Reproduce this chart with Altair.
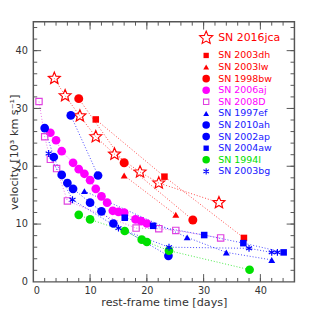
import altair as alt
import pandas as pd

# ---- data: rest-frame time [days], velocity [10^3 km/s]
t_2016jca = [3.7, 5.6, 8.2, 11.0, 14.3, 18.8, 22.1, 32.7]
v_2016jca = [35.2, 32.2, 28.7, 25.1, 22.1, 19.0, 17.1, 13.7]
t_2003dh = [11.0, 23.1, 37.1]
v_2003dh = [28.1, 18.2, 7.6]
t_2003lw = [16.0, 25.1]
v_2003lw = [18.4, 11.6]
t_1998bw = [8.0, 16.0, 28.1]
v_1998bw = [31.7, 20.6, 10.7]
t_2006aj = [3, 4, 5, 7, 8, 9, 10, 11, 12, 13, 14, 15, 16, 18, 19, 20]
v_2006aj = [25.8, 24.5, 22.6, 20.6, 19.5, 18.7, 17.6, 16.1, 14.8, 13.7, 12.3, 12.1, 12.0, 10.8, 10.5, 10.1]
t_2008D = [1.0, 2.0, 3.0, 4.1, 6.0, 18.1, 22.1, 25.1, 33.0]
v_2008D = [31.2, 25.1, 21.2, 19.6, 14.0, 9.3, 9.2, 8.9, 7.6]
t_1997ef = [9.0, 27.1, 34.0, 42.0]
v_1997ef = [15.7, 7.7, 5.1, 3.8]
t_2010ah = [6.6, 11.4]
v_2010ah = [28.8, 18.4]
t_2002ap = [2.0, 3.6, 5.0, 6.0, 7.0, 10.0, 12.0, 14.1, 23.8]
v_2002ap = [26.6, 21.6, 18.5, 17.1, 16.1, 13.7, 12.2, 10.1, 4.5]
t_2004aw = [16.1, 21.1, 30.1, 37.0, 44.1]
v_2004aw = [11.1, 9.7, 8.1, 6.7, 5.1]
t_1994I = [8.0, 10.0, 16.1, 19.1, 20.0, 23.9, 38.1]
v_1994I = [11.6, 10.8, 8.8, 7.3, 6.9, 5.4, 2.1]
t_2003bg = [2.7, 6.9, 15.0, 23.9, 38.0, 42.0, 43.0]
v_2003bg = [22.2, 14.2, 9.3, 6.0, 5.8, 5.1, 5.1]

names = ["SN 2016jca", "SN 2003dh", "SN 2003lw", "SN 1998bw", "SN 2006aj", "SN 2008D",
         "SN 1997ef", "SN 2010ah", "SN 2002ap", "SN 2004aw", "SN 1994I", "SN 2003bg"]
times = [t_2016jca, t_2003dh, t_2003lw, t_1998bw, t_2006aj, t_2008D,
         t_1997ef, t_2010ah, t_2002ap, t_2004aw, t_1994I, t_2003bg]
vels = [v_2016jca, v_2003dh, v_2003lw, v_1998bw, v_2006aj, v_2008D,
        v_1997ef, v_2010ah, v_2002ap, v_2004aw, v_1994I, v_2003bg]

x_ticks_minor = list(range(2, 46, 2))
x_ticks_major = [10, 20, 30, 40]
y_ticks_minor = list(range(2, 45, 2))
y_ticks_major = [10, 20, 30, 40]

# ---- styles
RED, MAG, BLUE, GREEN = "#ff0000", "#ff00ff", "#0000ff", "#00e000"
ASTER = "M0,-1L0,1M-0.87,-0.5L0.87,0.5M-0.87,0.5L0.87,-0.5"
STAR = ("M0,-1L0.265,-0.364L0.951,-0.309L0.428,0.139L0.588,0.809L0,0.45"
        "L-0.588,0.809L-0.428,0.139L-0.951,-0.309L-0.265,-0.364Z")
colors = [RED, RED, RED, RED, MAG, "#e040e0", BLUE, BLUE, BLUE, BLUE, GREEN, BLUE]
text_colors = [RED, RED, RED, RED, MAG, MAG, "#2020ff", "#2020ff", "#2020ff", "#2020ff", GREEN, "#2020ff"]
shapes = [STAR, "square", "triangle-up", "circle", "circle", "square",
          "triangle-up", "circle", "circle", "square", "circle", ASTER]
is_open = [True, False, False, False, False, True, False, False, False, False, False, True]
sizes = [165, 45, 50, 85, 80, 42, 50, 80, 80, 45, 80, 50]
lsizes = [200, 30, 36, 60, 60, 30, 36, 60, 60, 30, 60, 42]
fills = ["transparent" if o else c for c, o in zip(colors, is_open)]
strokes = [c if o else "transparent" for c, o in zip(colors, is_open)]

rows = []
for k, (nm, tt, vv) in enumerate(zip(names, times, vels)):
    for a, b in zip(tt, vv):
        rows.append({"sn": nm, "i": k, "t": a, "v": b})
df = pd.DataFrame(rows)

W, H = 268, 267
FONT = "DejaVu Sans"
xs = alt.Scale(domain=[0, 46], nice=False, zero=False)
ys = alt.Scale(domain=[0, 45], nice=False, zero=False)

ax_common = dict(ticks=False, domain=False, grid=False, labelFontSize=10, labelColor="#333",
                 labelFont=FONT, titleFont=FONT, titleFontWeight="normal", titleColor="#333",
                 titleFontSize=11.5)
X = alt.X("t:Q", scale=xs, title="rest-frame time [days]",
          axis=alt.Axis(values=[0, 10, 20, 30, 40], labelPadding=4,
                        titleX=W / 2, titleY=21, titleBaseline="middle", titleAlign="center",
                        **ax_common))
Y = alt.Y("v:Q", scale=ys, title="velocity [10³ km s⁻¹]",
          axis=alt.Axis(values=[0, 10, 20, 30, 40], labelPadding=6,
                        titleX=-19, titleY=H / 2, titleBaseline="middle", titleAlign="center",
                        titleAngle=270, **ax_common))

size_expr = "[" + ",".join(str(s) for s in sizes) + "][datum.i]"
lsize_expr = "[" + ",".join(str(s) for s in lsizes) + "][datum.i]"

lines = alt.Chart(df).mark_line(strokeDash=[1, 2], strokeWidth=1, opacity=0.75).encode(
    x=X, y=Y, color=alt.Color("sn:N", scale=alt.Scale(domain=names, range=colors), legend=None),
    detail="sn:N", order="t:Q")

points = alt.Chart(df).transform_calculate(sz=size_expr).mark_point(
    opacity=1, strokeWidth=1.2).encode(
    x=X, y=Y,
    shape=alt.Shape("sn:N", scale=alt.Scale(domain=names, range=shapes), legend=None),
    fill=alt.Fill("sn:N", scale=alt.Scale(domain=names, range=fills), legend=None),
    stroke=alt.Stroke("sn:N", scale=alt.Scale(domain=names, range=strokes), legend=None),
    size=alt.Size("sz:Q", scale=None, legend=None),
)

# ---- manual legend (top right, inside the frame)
ldf = pd.DataFrame({"sn": names, "i": list(range(len(names)))})
lbase = alt.Chart(ldf).transform_calculate(
    py="datum.i == 0 ? 16.6 : 34.6 + 11.9 * (datum.i - 1)",
    fs="datum.i == 0 ? 11.2 : 9.7",
    sz=lsize_expr,
)
lsym = lbase.mark_point(opacity=1, strokeWidth=1.1).encode(
    x=alt.value(177.4), y=alt.Y("py:Q", scale=None, axis=None),
    shape=alt.Shape("sn:N", scale=alt.Scale(domain=names, range=shapes), legend=None),
    fill=alt.Fill("sn:N", scale=alt.Scale(domain=names, range=fills), legend=None),
    stroke=alt.Stroke("sn:N", scale=alt.Scale(domain=names, range=strokes), legend=None),
    size=alt.Size("sz:Q", scale=None, legend=None),
)
ltxt = lbase.mark_text(align="left", baseline="middle", font=FONT).encode(
    x=alt.value(189.7), y=alt.Y("py:Q", scale=None, axis=None), text="sn:N",
    color=alt.Color("sn:N", scale=alt.Scale(domain=names, range=text_colors), legend=None),
    size=alt.Size("fs:Q", scale=None, legend=None),
)

# ---- inward ticks on all four sides
TC = "#555555"
def xt(vals, ln):
    d = pd.DataFrame({"t": vals})
    b = alt.Chart(d).mark_rule(color=TC, strokeWidth=1)
    return [b.encode(x=X, y=alt.value(H), y2=alt.value(H - ln)),
            b.encode(x=X, y=alt.value(0), y2=alt.value(ln))]
def yt(vals, ln):
    d = pd.DataFrame({"v": vals})
    b = alt.Chart(d).mark_rule(color=TC, strokeWidth=1)
    return [b.encode(y=Y, x=alt.value(0), x2=alt.value(ln)),
            b.encode(y=Y, x=alt.value(W), x2=alt.value(W - ln))]
ticks = xt(x_ticks_minor, 4) + xt(x_ticks_major, 8) + yt(y_ticks_minor, 4) + yt(y_ticks_major, 8)

chart = alt.layer(*ticks, lines, points, lsym, ltxt).resolve_scale(
    color="independent", shape="independent", fill="independent", stroke="independent",
    size="independent"
).properties(
    width=W, height=H,
    padding={"left": 26, "top": 10, "right": 17, "bottom": 34},
    autosize=alt.AutoSizeParams(type="none"),
).configure_view(stroke="#555555", strokeWidth=1.5)

chart.save("out.html", embed_options={"renderer": "svg", "actions": False})
